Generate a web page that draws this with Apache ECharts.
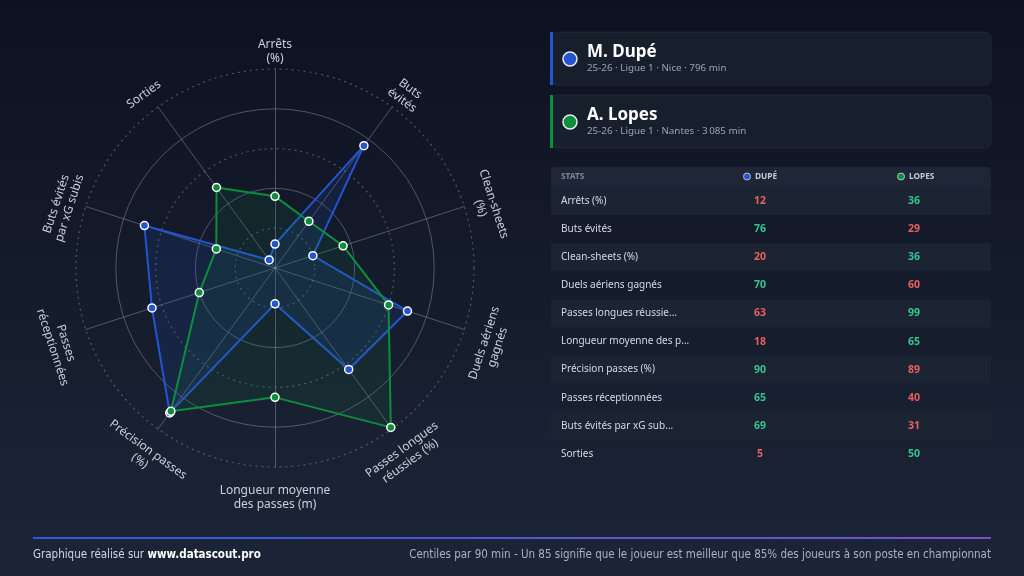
<!DOCTYPE html>
<html lang="fr">
<head>
<meta charset="utf-8">
<title>Radar Dupé vs Lopes</title>
<script src="https://cdn.jsdelivr.net/npm/echarts@6/dist/echarts.min.js"></script>
<style>
  html, body { margin: 0; padding: 0; background: #0e1320; }
  #main { width: 1024px; height: 576px; }
</style>
</head>
<body>
<div id="main"></div>
<script>
// stats, in the order of the table (radar goes clockwise from the top)
var axisLabels = ['Arrêts\n(%)', 'Buts\névités', 'Clean-sheets\n(%)', 'Duels aériens\ngagnés',
  'Passes longues\nréussies (%)', 'Longueur moyenne\ndes passes (m)', 'Précision passes\n(%)',
  'Passes\nréceptionnées', 'Buts évités\npar xG subis', 'Sorties'];
var tableLabels = ['Arrêts (%)', 'Buts évités', 'Clean-sheets (%)', 'Duels aériens gagnés',
  'Passes longues réussie...', 'Longueur moyenne des p...', 'Précision passes (%)',
  'Passes réceptionnées', 'Buts évités par xG sub...', 'Sorties'];
var dupeValues = [12, 76, 20, 70, 63, 18, 90, 65, 69, 5];
var lopesValues = [36, 29, 36, 60, 99, 65, 89, 40, 31, 50];

var players = [
  { name: 'M. Dupé', info: '25-26 · Ligue 1 · Nice · 796 min', color: '#2455d0' },
  { name: 'A. Lopes', info: '25-26 · Ligue 1 · Nantes · 3\u2009085 min', color: '#0b8f3c' }
];

var FONT = "'Noto Sans', 'Open Sans', sans-serif";
var NARROW = "'Liberation Sans Narrow', 'DejaVu Sans Condensed', 'Noto Sans', sans-serif";
var cx = 275, cy = 268, R = 199;

// echarts radar runs counter-clockwise, so reorder to read clockwise
var order = [0];
for (var k = axisLabels.length - 1; k > 0; k--) order.push(k);
var indicators = order.map(function (i) { return { name: axisLabels[i], max: 100 }; });
function reorder(arr) { return order.map(function (i) { return arr[i]; }); }

var gridCol = 'rgba(150,160,178,0.45)';
var radarBase = {
  center: [cx, cy], radius: R, startAngle: 90, shape: 'circle', splitNumber: 5,
  indicator: indicators,
  axisName: { show: false },
  splitArea: { show: false }
};

var graphic = [];

// tangent axis names
axisLabels.forEach(function (txt, i) {
  var a = i * 36;
  var rad = a * Math.PI / 180;
  var rot = (a > 90 && a < 270) ? a - 180 : (a >= 270 ? a - 360 : a);
  var r = (a === 108 || a === 252) ? 227 : 223;
  graphic.push({
    type: 'text', x: cx + r * Math.sin(rad), y: cy + 7 - r * Math.cos(rad),
    rotation: -rot * Math.PI / 180,
    style: { text: txt, x: 0, y: 0, fill: '#c9d0db', font: '12px ' + FONT, lineHeight: 14,
      textAlign: 'center', textVerticalAlign: 'middle' }
  });
});

// player cards
players.forEach(function (p, j) {
  var y0 = 32 + j * 63;
  graphic.push({ type: 'rect', shape: { x: 551, y: y0, width: 440, height: 53, r: 6 },
    style: { fill: '#171e2c', stroke: 'rgba(255,255,255,0.06)', lineWidth: 1 } });
  graphic.push({ type: 'rect', shape: { x: 550, y: y0, width: 3, height: 53 },
    style: { fill: p.color } });
  graphic.push({ type: 'circle', shape: { cx: 570, cy: y0 + 27, r: 7 },
    style: { fill: p.color, stroke: '#e8ecf2', lineWidth: 1.5 } });
  graphic.push({ type: 'text', style: { text: p.name, x: 587, y: y0 + 20, fill: '#ffffff',
    font: 'bold 17px ' + FONT, textVerticalAlign: 'middle' } });
  graphic.push({ type: 'text', style: { text: p.info, x: 587, y: y0 + 36, fill: '#9aa3b2',
    font: '9.8px ' + FONT, textVerticalAlign: 'middle' } });
});

// table
var colD = 760, colL = 914, rowH = 28.1, row0 = 187;
graphic.push({ type: 'rect', shape: { x: 551, y: 167, width: 440, height: 20, r: [4, 4, 0, 0] },
  style: { fill: '#1e2637' } });
graphic.push({ type: 'text', style: { text: 'STATS', x: 561, y: 176.5, fill: '#7d8799',
  font: 'bold 8.3px ' + FONT, textVerticalAlign: 'middle' } });
[[colD, 'DUPÉ', players[0].color], [colL, 'LOPES', players[1].color]].forEach(function (h) {
  graphic.push({ type: 'circle', shape: { cx: h[0] - 13, cy: 176.5, r: 3.5 },
    style: { fill: h[2], stroke: '#b9c2d0', lineWidth: 1 } });
  graphic.push({ type: 'text', style: { text: h[1], x: h[0] - 5, y: 177, fill: '#c3cad5',
    font: 'bold 8.3px ' + FONT, textVerticalAlign: 'middle' } });
});
tableLabels.forEach(function (lab, i) {
  var y = row0 + i * rowH;
  if (i % 2 === 0) {
    graphic.push({ type: 'rect', shape: { x: 551, y: y, width: 440, height: rowH },
      style: { fill: '#1c2433' } });
  }
  graphic.push({ type: 'text', style: { text: lab, x: 561, y: y + rowH / 2, fill: '#d5dae2',
    font: '10px ' + FONT, textVerticalAlign: 'middle' } });
  var d = dupeValues[i], l = lopesValues[i];
  var green = '#35c48f', red = '#e8605f';
  graphic.push({ type: 'text', style: { text: String(d), x: colD, y: y + rowH / 2,
    fill: d >= l ? green : red, font: 'bold 10.5px ' + FONT, textAlign: 'center', textVerticalAlign: 'middle' } });
  graphic.push({ type: 'text', style: { text: String(l), x: colL, y: y + rowH / 2,
    fill: l > d ? green : red, font: 'bold 10.5px ' + FONT, textAlign: 'center', textVerticalAlign: 'middle' } });
});

// footer
graphic.push({ type: 'rect', shape: { x: 33, y: 537, width: 958, height: 2 },
  style: { fill: new echarts.graphic.LinearGradient(0, 0, 1, 0,
    [{ offset: 0, color: '#2a5bd7' }, { offset: 1, color: '#7b4fd3' }]) } });
graphic.push({ type: 'text', style: {
  text: '{a|Graphique réalisé sur }{b|www.datascout.pro}', x: 33, y: 555, textVerticalAlign: 'middle',
  rich: { a: { fill: '#d0d5de', font: '11.5px ' + NARROW }, b: { fill: '#ffffff', font: 'bold 11.5px ' + NARROW } } } });
graphic.push({ type: 'text', style: {
  text: 'Centiles par 90 min - Un 85 signifie que le joueur est meilleur que 85% des joueurs à son poste en championnat',
  x: 991, y: 555, fill: '#aab2bf', font: '11.5px ' + NARROW, textAlign: 'right', textVerticalAlign: 'middle' } });

var myChart = echarts.init(document.getElementById('main'), null, { renderer: 'canvas' });
var option = {
  backgroundColor: new echarts.graphic.LinearGradient(0, 0, 0, 1, [
    { offset: 0, color: '#0d1220' }, { offset: 1, color: '#1c2537' }]),
  animation: false,
  radar: [
    // rings at 20, 60, 100 dotted
    Object.assign({}, radarBase, {
      axisLine: { lineStyle: { color: gridCol, width: 1 } },
      splitLine: { lineStyle: { type: [2, 4], width: 1.2,
        color: ['transparent', gridCol, 'transparent', gridCol, 'transparent', gridCol] } }
    }),
    // rings at 40, 80 solid
    Object.assign({}, radarBase, {
      axisLine: { show: false },
      splitLine: { lineStyle: { type: 'solid', width: 1,
        color: ['transparent', 'transparent', gridCol, 'transparent', gridCol, 'transparent'] } }
    })
  ],
  series: [{
    type: 'radar', radarIndex: 0, symbol: 'circle', symbolSize: 8,
    data: [
      { name: 'Dupé', value: reorder(dupeValues),
        lineStyle: { color: players[0].color, width: 2 },
        itemStyle: { color: players[0].color, borderColor: '#ffffff', borderWidth: 1.5 },
        areaStyle: { color: 'rgba(36,85,208,0.2)' } },
      { name: 'Lopes', value: reorder(lopesValues),
        lineStyle: { color: players[1].color, width: 2 },
        itemStyle: { color: players[1].color, borderColor: '#ffffff', borderWidth: 1.5 },
        areaStyle: { color: 'rgba(30,140,80,0.16)' } }
    ]
  }],
  graphic: graphic
};
myChart.setOption(option);
</script>
</body>
</html>
